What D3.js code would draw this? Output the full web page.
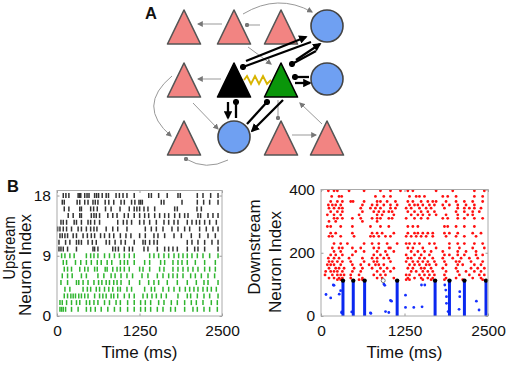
<!DOCTYPE html>
<html lang="en">
<head>
<meta charset="UTF-8">
<title>Upstream / downstream rasters</title>
<script src="https://d3js.org/d3.v7.min.js"></script>
<style>
    body { margin: 0; background: #fff; }
    svg { display: block; font-family: "Liberation Sans", Arial, sans-serif; }
    .tick text { font-size: 15.5px; fill: #111; }
    .tick line { stroke: #999; }
    .frame { fill: none; stroke: #aaa; stroke-width: 1; }
    .axis-label { font-size: 17px; fill: #111; text-anchor: middle; }
    .panel { font-size: 16.5px; font-weight: bold; fill: #111; }
</style>
</head>
<body>
<svg width="510" height="367"></svg>
<script>
// ---------- data ----------
const xTicks = [0, 1250, 2500];
const upTicksY = [0, 9, 18];
const downTicksY = [0, 200, 400];

// upstream spike times (ms), neuron 1 .. 18
const upstreamSpikes = [
    [45,70,95,130,220,320,445,510,580,670,770,870,960,1070,1170,1267,1338,1419,1520,1606,1722,1793,1934,2060,2126,2227,2313,2429],
    [45,80,145,220,295,345,445,495,560,620,720,795,895,960,1070,1170,1267,1338,1419,1540,1621,1732,1823,1934,2035,2111,2212,2338,2429],
    [110,160,210,245,280,330,370,420,470,570,645,695,745,820,860,920,1020,1095,1170,1303,1368,1439,1505,1580,1656,1833,1974,2025,2126,2227,2313,2440],
    [120,195,395,460,510,595,645,720,785,845,920,960,1060,1130,1328,1429,1480,1606,1692,1773,1858,1944,2010,2075,2136,2212,2277,2338,2414],
    [60,160,295,330,395,470,560,630,680,745,795,860,910,970,1095,1252,1389,1469,1540,1671,1823,1974,2111,2227,2288,2440],
    [80,160,230,370,445,620,710,820,880,970,1060,1145,1288,1378,1520,1606,1692,1757,1823,1909,2025,2096,2187,2288,2388],
    [110,160,220,345,420,470,570,610,730,760,845,910,960,1020,1095,1252,1303,1404,1555,1621,1757,1833,1909,1985,2060,2136,2237,2313,2399],
    [95,145,280,360,445,520,610,670,760,830,960,1020,1070,1170,1328,1404,1570,1631,1757,1833,1894,1974,2096,2237,2399],
    [70,120,195,260,445,510,560,620,720,795,870,945,1020,1095,1170,1404,1469,1540,1621,1692,1773,1843,1909,1974,2045,2126,2212,2313,2440],
    [30,60,95,160,295,545,570,620,845,885,930,1020,1095,1145,1318,1378,1520,1631,1692,1757,1823,1974,2086,2136,2237,2440],
    [30,130,195,295,330,370,470,535,595,745,795,880,970,1035,1170,1303,1338,1404,1469,1520,1974,2045,2136,2237,2348,2440],
    [45,80,120,160,245,295,395,460,520,570,660,720,795,860,960,1045,1120,1252,1338,1469,1530,1631,1773,1884,2035,2161,2288,2399],
    [10,45,95,145,220,320,370,445,510,560,605,745,845,920,1060,1338,1429,1505,1606,1742,1833,1934,2010,2161,2262,2363,2440],
    [60,95,145,260,295,370,470,510,570,645,920,1005,1060,1130,1252,1318,1404,1505,1621,1692,1773,1833,1974,2045,2111,2161,2237,2313,2414],
    [170,245,345,370,520,560,595,645,770,845,910,1020,1080,1170,1252,1328,1389,1480,1555,1631,1692,1783,1858,1934,1985,2136,2176,2288,2363,2440],
    [110,180,345,370,510,555,610,735,820,955,1095,1170,1210,1252,1318,1378,1480,1783,1823,2121,2187],
    [80,110,305,345,420,470,545,580,620,730,785,860,970,1020,1130,1180,1242,1267,1293,1580,1620,1894,2126,2222,2313,2440],
    [95,135,180,320,340,360,420,455,485,570,600,630,685,745,780,895,945,1000,1060,1170,1390,1430,1540,1670,1833,1868,2126,2212,2328,2440]
];
const greenCount = 9;

// downstream excitatory spikes: [neuron index, times]
const redRows = [
    [396, [110,195,245,420,645,890,1040,1190,1300,1375,1723,1972,2296,2445]],
    [378, [160,270,310,815,940,1040,1325,1425,1474,1549,1823,1897,2022,2296,2420]],
    [362, [145,245,320,445,480,645,840,890,990,1115,1300,1375,1499,1599,1673,1723,1872,2022,2146,2271,2420]],
    [351, [110,170,220,295,620,765,840,940,1040,1140,1325,1400,1450,1524,1623,1698,1823,1922,2047,2171,2296]],
    [341, [120,195,270,320,595,740,815,890,1040,1115,1275,1350,1474,1574,1648,1848,2047,2146,2221,2296,2395]],
    [330, [145,245,320,620,790,865,940,1015,1065,1300,1400,1499,1599,1698,2022,2146,2271,2370]],
    [320, [95,195,295,570,840,915,1090,1350,1450,1524,1623,1723,1872,2047,2196,2271]],
    [309, [195,245,320,470,595,765,840,890,1015,1065,1275,1400,1499,1599,1823,1897,2047,2146,2296,2420]],
    [299, [120,220,620,840]],
    [283, [95,145,295,470,740,890,1015,1300,1375,1450,1848,1897,2022,2146,2296]],
    [262, [145,220,470,765,840,915,1090,1300,1400,1450,1524,1599,1673,1848,1922,2047,2271,2395]],
    [252, [120,170,295,495,740,790,865,965,1040,1275,1350,1425,1499,1574,1673,1872,2022,2146,2321]],
    [229, [195,295,395,645,765,865,990,1140,1275,1325,1400,1474,1623,1698,1922,2047,2146,2296,2420]],
    [215, [170,270,320,470,595,790,865,1015,1040,1300,1375,1524,1723,1922,2072,2271,2445]],
    [204, [195,295,520,645,840,965,1090,1350,1450,1549,1648,1823,2047,2171,2321]],
    [193, [145,220,320,470,790,890,990,1275,1400,1499,1623,1848,1922,2047,2146,2321,2420]],
    [183, [110,195,270,420,620,765,840,940,1015,1300,1350,1474,1549,1673,1823,1972,2097,2221,2346]],
    [172, [120,170,245,320,445,645,790,840,1040,1275,1375,1450,1524,1599,1698,1848,2022,2072,2246,2420]],
    [162, [95,145,195,295,470,595,720,815,865,940,1325,1400,1474,1574,1623,1723,1872,2047,2121,2296,2395]],
    [151, [120,220,270,345,495,620,765,890,990,1090,1300,1375,1499,1549,1648,1823,2022,2246,2346,2445]],
    [141, [70,145,195,245,320,470,595,840,940,1040,1350,1425,1524,1599,1673,1872,2047,2171,2296,2395]],
    [130, [60,170,245,295,345,445,570,790,890,965,1275,1325,1474,1549,1623,1698,1848,2072,2221,2370,2445]],
    [120, [120,195,270,320,445,620,840,915,1090,1300,1400,1499,1599,1673,1872,2022,2271,2395]],
    [115, [245,295,570,620,1275,1325,1524,1648,1848,2121,2420]]
];

// downstream inhibitory spikes: [time, neuron index]
const blueDots = [
    [75,68],[184,98],[195,97],[273,69],[294,80],[309,10],[145,57],[310,13],[460,13],[740,10],
    [747,8],[941,101],[955,97],[966,14],[1015,11],[1040,49],[1056,47],[1265,66],[1265,27],
    [1389,27],[1504,98],[1554,98],[1513,29],[1853,98],[1868,82],[1878,61],[1878,40],[1903,14],
    [2077,77],[2077,61],[2067,21],[2326,47],[2366,19]
];
// synchronous inhibitory bursts (ms) and size of inhibitory pool
const burstTimes = [329, 483, 653, 1140, 1708, 1923, 2147, 2470];
const failedBurst = [931];
const inhibTop = 112;

// ---------- schematic (panel A) ----------
const colX = [184, 234, 281, 327];
const rowY = [27, 80, 138];
const nodes = [
    {type: "tri", col: 0, row: 0}, {type: "tri", col: 1, row: 0}, {type: "tri", col: 2, row: 0},
    {type: "cir", col: 3, row: 0},
    {type: "tri", col: 0, row: 1}, {type: "tri", col: 1, row: 1, fill: "#000"},
    {type: "tri", col: 2, row: 1, fill: "#0a960a"}, {type: "cir", col: 3, row: 1},
    {type: "tri", col: 0, row: 2}, {type: "cir", col: 1, row: 2},
    {type: "tri", col: 2, row: 2}, {type: "tri", col: 3, row: 2}
];
// thin gray connections between background neurons
const grayEdges = [
    {d: "M222,24 L198,24", end: "arrow"},
    {d: "M260,25 L247,25", end: "dot"},
    {d: "M243,14 Q278,-7 312,12", end: "arrow"},
    {d: "M248,47 L271,64", end: "arrow"},
    {d: "M221,79 L198,79", end: "arrow"},
    {d: "M172,76 Q136,106 171,136", end: "arrow"},
    {d: "M193,103 L218,129", end: "arrow"},
    {d: "M228,160 Q206,171 186,159", end: "dot"},
    {d: "M278,100 L278,118", end: "dot"},
    {d: "M292,135 L316,135", end: "arrow"},
    {d: "M322,124 L300,103", end: "arrow"}
];
// thick black connections of the two upstream neurons
const blackEdges = [
    {d: "M246,61 L306,37", end: "arrow"},
    {d: "M311,42 L243,67", end: "dot"},
    {d: "M296,60 L320,44", end: "arrow"},
    {d: "M316,51 L292,64", end: "dot"},
    {d: "M295,83 L310,83", end: "arrow"},
    {d: "M309,77 L295,77", end: "dot"},
    {d: "M228,102 L228,118", end: "arrow"},
    {d: "M236,118 L236,102", end: "dot"},
    {d: "M283,100 L252,131", end: "arrow"},
    {d: "M247,124 L267,102", end: "dot"}
];

const svg = d3.select("svg");
const defs = svg.append("defs");
function addMarkers(name, color, size) {
    defs.append("marker").attr("id", "arrow-" + name)
        .attr("viewBox", "0 0 10 10").attr("refX", 8).attr("refY", 5)
        .attr("markerUnits", "userSpaceOnUse")
        .attr("markerWidth", size).attr("markerHeight", size)
        .attr("orient", "auto")
        .append("path").attr("d", "M0,0 L10,5 L0,10 z").attr("fill", color);
    defs.append("marker").attr("id", "dot-" + name)
        .attr("viewBox", "0 0 10 10").attr("refX", 5).attr("refY", 5)
        .attr("markerUnits", "userSpaceOnUse")
        .attr("markerWidth", size * 0.72).attr("markerHeight", size * 0.72)
        .append("circle").attr("cx", 5).attr("cy", 5).attr("r", 5).attr("fill", color);
}
addMarkers("gray", "#777", 6);
addMarkers("black", "#000", 8.5);

const gA = svg.append("g");
gA.append("text").attr("class", "panel").attr("x", 145).attr("y", 19).text("A");

gA.selectAll(".gray-edge").data(grayEdges).enter().append("path")
    .attr("d", d => d.d).attr("fill", "none").attr("stroke", "#999").attr("stroke-width", 1)
    .attr("marker-end", d => `url(#${d.end}-gray)`);

// gap junction between the two upstream neurons
const zig = [[244, 80], [247, 76], [251, 84], [255, 76], [259, 84], [263, 76], [267, 84], [271, 80]];
gA.append("path").attr("d", d3.line()(zig)).attr("fill", "none")
    .attr("stroke", "#d8b400").attr("stroke-width", 1.9).attr("stroke-linejoin", "miter");

gA.selectAll(".node").data(nodes).enter().each(function (d) {
    const cx = colX[d.col], cy = rowY[d.row];
    const g = d3.select(this);
    if (d.type === "tri") {
        g.append("path")
            .attr("d", `M${cx},${cy - 17} L${cx + 16.5},${cy + 17} L${cx - 16.5},${cy + 17} Z`)
            .attr("fill", d.fill || "#f28482")
            .attr("stroke", d.fill ? "#000" : "#555").attr("stroke-width", 1.6)
            .attr("stroke-linejoin", "round");
    } else {
        g.append("circle").attr("cx", cx).attr("cy", cy - 1).attr("r", 16)
            .attr("fill", "#6fa0f2").attr("stroke", "#444").attr("stroke-width", 1.6);
    }
});

gA.selectAll(".black-edge").data(blackEdges).enter().append("path")
    .attr("d", d => d.d).attr("fill", "none").attr("stroke", "#000").attr("stroke-width", 2.3)
    .attr("marker-end", d => `url(#${d.end}-black)`);

// ---------- panel B ----------
svg.append("text").attr("class", "panel").attr("x", 7).attr("y", 192).text("B");

const fmt = d3.format("d");
function frame(g, x, y, yTicks) {
    const [x0, x1] = x.range(), [y0, y1] = y.range();
    g.append("g").attr("transform", `translate(0,${y0})`)
        .call(d3.axisBottom(x).tickValues(xTicks).tickFormat(fmt)
            .tickSizeInner(-2.5).tickSizeOuter(0).tickPadding(9))
        .call(a => a.select(".domain").remove());
    g.append("g").attr("transform", `translate(0,${y1})`)
        .call(d3.axisTop(x).tickValues(xTicks).tickSizeInner(-2.5).tickSizeOuter(0).tickFormat(""))
        .call(a => a.select(".domain").remove());
    g.append("g").attr("transform", `translate(${x0},0)`)
        .call(d3.axisLeft(y).tickValues(yTicks).tickFormat(fmt)
            .tickSizeInner(-2.5).tickSizeOuter(0).tickPadding(6))
        .call(a => a.select(".domain").remove());
    g.append("g").attr("transform", `translate(${x1},0)`)
        .call(d3.axisRight(y).tickValues(yTicks).tickSizeInner(-2.5).tickSizeOuter(0).tickFormat(""))
        .call(a => a.select(".domain").remove());
    g.selectAll("g").attr("font-family", null).attr("font-size", null);
    g.append("rect").attr("class", "frame")
        .attr("x", x0).attr("y", y1).attr("width", x1 - x0).attr("height", y0 - y1);
    g.append("text").attr("class", "axis-label")
        .attr("x", (x0 + x1) / 2).attr("y", 358).text("Time (ms)");
}

// upstream raster
const xUp = d3.scaleLinear().domain([0, 2500]).range([57, 222]);
const yUp = d3.scaleLinear().domain([0, 18.75]).range([316, 190.5]);
const gUp = svg.append("g");
const upFlat = upstreamSpikes.flatMap((ts, i) => ts.map(t => ({t, n: i + 1})));
gUp.selectAll(".spk").data(upFlat).enter().append("line")
    .attr("x1", d => xUp(d.t)).attr("x2", d => xUp(d.t))
    .attr("y1", d => yUp(d.n) - 2.5).attr("y2", d => yUp(d.n) + 2.5)
    .attr("stroke", d => d.n <= greenCount ? "#2fb52f" : "#333")
    .attr("stroke-width", 1.5);
frame(gUp, xUp, yUp, upTicksY);
gUp.append("text").attr("class", "axis-label")
    .attr("transform", "translate(15,248) rotate(-90)")
    .attr("textLength", 63).attr("lengthAdjust", "spacingAndGlyphs").text("Upstream");
gUp.append("text").attr("class", "axis-label")
    .attr("transform", "translate(30.5,265) rotate(-90)").text("Neuron Index");

// downstream raster
const xDn = d3.scaleLinear().domain([0, 2500]).range([321, 488]);
const yDn = d3.scaleLinear().domain([0, 400]).range([316, 189.5]);
const gDn = svg.append("g");
const redFlat = redRows.flatMap(([n, ts]) => ts.map(t => ({t, n})));
gDn.selectAll(".red").data(redFlat).enter().append("circle")
    .attr("cx", d => xDn(d.t)).attr("cy", d => yDn(d.n)).attr("r", 1.4).attr("fill", "#ff1010");
gDn.selectAll(".blue").data(blueDots).enter().append("circle")
    .attr("cx", d => xDn(d[0])).attr("cy", d => yDn(d[1])).attr("r", 1.4).attr("fill", "#1530ff");
gDn.selectAll(".burst").data(burstTimes).enter().append("line")
    .attr("x1", d => xDn(d)).attr("x2", d => xDn(d))
    .attr("y1", yDn(0)).attr("y2", yDn(inhibTop))
    .attr("stroke", "#0a28f0").attr("stroke-width", 3);
gDn.selectAll(".btop").data(burstTimes).enter().append("circle")
    .attr("cx", d => xDn(d)).attr("cy", yDn(inhibTop)).attr("r", 2.2).attr("fill", "#000");
gDn.selectAll(".fail").data(failedBurst).enter().append("circle")
    .attr("cx", d => xDn(d)).attr("cy", yDn(inhibTop)).attr("r", 2).attr("fill", "#fff")
    .attr("stroke", "#777").attr("stroke-width", 1);
frame(gDn, xDn, yDn, downTicksY);
gDn.append("text").attr("class", "axis-label")
    .attr("transform", "translate(260,247) rotate(-90)").text("Downstream");
gDn.append("text").attr("class", "axis-label")
    .attr("transform", "translate(281,262) rotate(-90)").text("Neuron Index");
</script>
</body>
</html>
